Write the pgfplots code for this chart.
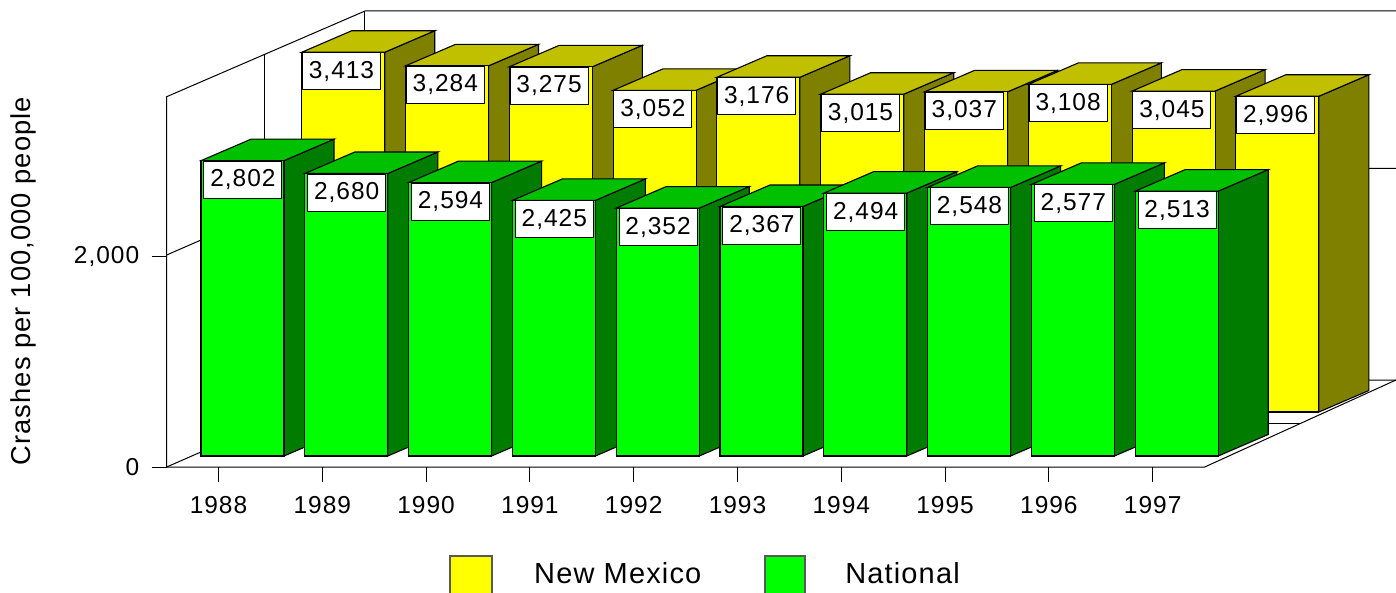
\documentclass[border=0pt]{standalone}
\usepackage{pgfplots}
\usepackage{pgfplotstable}
\usepackage{fontspec}
\setmainfont{Liberation Sans}[LetterSpace=4]
\pgfplotsset{compat=1.18}
\definecolor{yface}{HTML}{FFFF00}
\definecolor{yside}{HTML}{808000}
\definecolor{ytop}{HTML}{C0C000}
\definecolor{gface}{HTML}{00FF00}
\definecolor{gside}{HTML}{007C00}
\definecolor{gtop}{HTML}{00C000}
\newcommand{\lfont}{\fontsize{24.5}{28}\selectfont}

\pgfplotstableread{
year value label
1988 3413 3,413
1989 3284 3,284
1990 3275 3,275
1991 3052 3,052
1992 3176 3,176
1993 3015 3,015
1994 3037 3,037
1995 3108 3,108
1996 3045 3,045
1997 2996 2,996
}\newmexico
\pgfplotstableread{
year value label
1988 2802 2,802
1989 2680 2,680
1990 2594 2,594
1991 2425 2,425
1992 2352 2,352
1993 2367 2,367
1994 2494 2,494
1995 2548 2,548
1996 2577 2,577
1997 2513 2,513
}\national

% {year}{value}{x offset in px}{floor level in data units}{face}{side}{top}
\newcommand{\cuboid}[7]{%
  \pgfmathsetmacro{\xL}{#1+(#3)/103.8}%
  \pgfmathsetmacro{\xR}{\xL+83/103.8}%
  \pgfmathsetmacro{\xLd}{\xL+50/103.8}%
  \pgfmathsetmacro{\xRd}{\xR+50/103.8}%
  \pgfmathsetmacro{\yB}{#4}%
  \pgfmathsetmacro{\yT}{#4+#2}%
  \pgfmathsetmacro{\yBd}{\yB+204}%
  \pgfmathsetmacro{\yTd}{\yT+204}%
  \addplot[fill=#6,barline] coordinates {(\xR,\yB) (\xRd,\yBd) (\xRd,\yTd) (\xR,\yT)} -- cycle;
  \addplot[fill=#7,barline] coordinates {(\xL,\yT) (\xR,\yT) (\xRd,\yTd) (\xLd,\yTd)} -- cycle;
  \addplot[fill=#5,barline] coordinates {(\xL,\yB) (\xR,\yB) (\xR,\yT) (\xL,\yT)} -- cycle;
}
\newcommand{\backbar}[2]{\cuboid{#1}{#2}{83.2}{521.8}{yface}{yside}{ytop}}
\newcommand{\frontbar}[2]{\cuboid{#1}{#2}{-17.5}{104.4}{gface}{gside}{gtop}}

\begin{document}
\begin{tikzpicture}
\begin{axis}[
  name=main,
  at={(166.7pt,125pt)}, anchor=south west,
  scale only axis, width=1229.3pt, height=467pt,
  xmin=1987.50096, xmax=1999.3439,
  ymin=0, ymax=4430.74,
  clip=false,
  axis line style={draw=none},
  xtick={1988,1989,1990,1991,1992,1993,1994,1995,1996,1997},
  xticklabels={1988,1989,1990,1991,1992,1993,1994,1995,1996,1997},
  ytick={0,2000},
  yticklabels={0,{2,000}},
  xtick pos=bottom, ytick pos=left,
  tick align=outside, major tick length=15pt,
  tick style={draw=black,line width=1pt},
  tick label style={font=\lfont},
  xticklabel style={yshift=-11pt},
  yticklabel style={xshift=-9pt},
  every axis y label/.style={at={(axis description cs:-0.1165,0.398)},rotate=90,anchor=center},
  ylabel={\fontsize{27.3}{30}\selectfont Crashes per 100,000 people},
  barline/.style={draw=black,line width=1.1pt,line join=miter},
  px/.style={x filter/.expression={1988+(x-218.5)/103.8}, y filter/.expression={(467-y)/0.1054}},
  frameline/.style={px,draw=black,line width=1pt},
  lab/.style={draw=none,mark=none,nodes near coords,point meta=explicit symbolic,
    nodes near coords style={anchor=north,yshift=0pt,fill=white,draw=black,line width=1pt,
      inner sep=0pt,minimum width=78pt,minimum height=37pt,text=black,font=\lfont}},
]
% walls and floor
\addplot[frameline] coordinates {(166.7,467) (166.7,96.7) (365,11) (1396,11)};
\addplot[frameline] coordinates {(365,11) (365,380)};
\addplot[frameline] coordinates {(265,54) (265,423.6)};
\addplot[frameline] coordinates {(166.7,255) (365,168.3) (1396,168.3)};
\addplot[frameline] coordinates {(166.7,467) (365,380) (1396,380)};
\addplot[frameline] coordinates {(265,423.6) (1300,423.6)};
\addplot[frameline] coordinates {(166.7,467) (1204.7,467) (1396,380)};
% New Mexico
\backbar{1988}{3413}\backbar{1989}{3284}\backbar{1990}{3275}\backbar{1991}{3052}\backbar{1992}{3176}
\backbar{1993}{3015}\backbar{1994}{3037}\backbar{1995}{3108}\backbar{1996}{3045}\backbar{1997}{2996}
\addplot[lab] table[x expr=\thisrow{year}+1.185,y expr=\thisrow{value}+521.8,meta=label] {\newmexico};
% National
\frontbar{1988}{2802}\frontbar{1989}{2680}\frontbar{1990}{2594}\frontbar{1991}{2425}\frontbar{1992}{2352}
\frontbar{1993}{2367}\frontbar{1994}{2494}\frontbar{1995}{2548}\frontbar{1996}{2577}\frontbar{1997}{2513}
\addplot[lab] table[x expr=\thisrow{year}+0.235,y expr=\thisrow{value}+104.4,meta=label] {\national};
% legend
\addplot[px,fill=yface,draw=gray!70!black,line width=1.2pt] coordinates {(450,594) (450,556) (492,556) (492,594)};
\addplot[px,fill=gface,draw=gray!70!black,line width=1.2pt] coordinates {(765,594) (765,556) (805,556) (805,594)};
\node[anchor=west,inner sep=0pt,font=\fontsize{29}{32}\selectfont] at (axis cs:1991.0395,-1005.7) {New Mexico};
\node[anchor=west,inner sep=0pt,font=\fontsize{29}{32}\selectfont] at (axis cs:1994.0361,-1005.7) {National};
\end{axis}
\pgfresetboundingbox
\useasboundingbox (0,0) rectangle (1396pt,592pt);
\end{tikzpicture}
\end{document}
